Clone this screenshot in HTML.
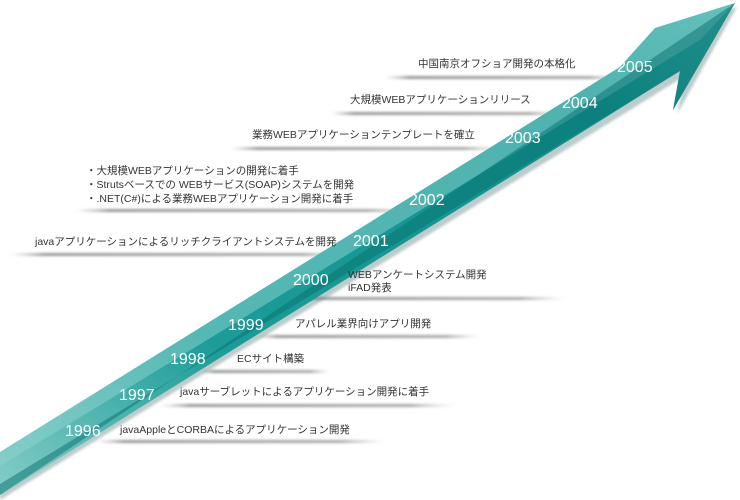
<!DOCTYPE html>
<html><head><meta charset="utf-8"><style>
html,body{margin:0;padding:0;background:#fff;}
svg{display:block}
.l{font-family:"Liberation Sans","Noto Sans CJK JP",sans-serif;font-size:10.5px;fill:#333;}
.y{font-family:"Liberation Sans",sans-serif;font-size:16px;fill:#fff;}
</style></head><body>
<svg width="740" height="500" viewBox="0 0 740 500" xmlns="http://www.w3.org/2000/svg">
<defs>
<linearGradient id="ln" x1="0" x2="1" y1="0" y2="0">
<stop offset="0" stop-color="#bbb" stop-opacity="0"/>
<stop offset="0.1" stop-color="#999"/>
<stop offset="0.85" stop-color="#aaa"/>
<stop offset="1" stop-color="#ccc" stop-opacity="0"/>
</linearGradient>
<linearGradient id="sh" x1="0" y1="1" x2="1" y2="0">
<stop offset="0" stop-color="#86cdc9"/>
<stop offset="0.3" stop-color="#1c9c98"/>
<stop offset="0.8" stop-color="#11918e"/>
<stop offset="1" stop-color="#3aaea9"/>
</linearGradient>
<filter id="bl"><feGaussianBlur stdDeviation="1.2"/></filter>
</defs>
<g filter="url(#bl)">
<rect x="95" y="440" width="290" height="3" fill="url(#ln)"/>
<rect x="160" y="404" width="295" height="3" fill="url(#ln)"/>
<rect x="200" y="370" width="130" height="3" fill="url(#ln)"/>
<rect x="255" y="335" width="225" height="3" fill="url(#ln)"/>
<rect x="270" y="297" width="295" height="3" fill="url(#ln)"/>
<rect x="10" y="253" width="345" height="3" fill="url(#ln)"/>
<rect x="75" y="209" width="345" height="3" fill="url(#ln)"/>
<rect x="230" y="147" width="275" height="3" fill="url(#ln)"/>
<rect x="330" y="112" width="235" height="3" fill="url(#ln)"/>
<rect x="385" y="76" width="240" height="3" fill="url(#ln)"/>
</g>
<polygon points="0,458 623,69 657,31 737,7 677,114 685,76 0,500" fill="#5a7e7e" opacity="0.4" filter="url(#bl)"/>
<polygon points="0,452 620,67 655,28 735,3 673,110 680,71 0,495" fill="url(#sh)"/>
<polygon points="0,452 620,67 655,28 735,3 700,40 0,466" fill="#8fd3cf" opacity="0.5"/>
<polygon points="0,484 680,71 673,110 735,3 0,495" fill="#086f6e" opacity="0.5"/>
<text class="y" x="65" y="436">1996</text>
<text class="y" x="119" y="400">1997</text>
<text class="y" x="170" y="364">1998</text>
<text class="y" x="228" y="330">1999</text>
<text class="y" x="293" y="285">2000</text>
<text class="y" x="353" y="246">2001</text>
<text class="y" x="409" y="205">2002</text>
<text class="y" x="505" y="143">2003</text>
<text class="y" x="562" y="108">2004</text>
<text class="y" x="617" y="72">2005</text>
<text class="l" x="120" y="433">javaAppleとCORBAによるアプリケーション開発</text>
<text class="l" x="180" y="395">javaサーブレットによるアプリケーション開発に着手</text>
<text class="l" x="237" y="362">ECサイト構築</text>
<text class="l" x="295" y="327">アパレル業界向けアプリ開発</text>
<text class="l" x="348" y="278">WEBアンケートシステム開発</text>
<text class="l" x="348" y="291">iFAD発表</text>
<text class="l" x="35" y="245">javaアプリケーションによるリッチクライアントシステムを開発</text>
<text class="l" x="86" y="174">・大規模WEBアプリケーションの開発に着手</text>
<text class="l" x="86" y="188">・Strutsベースでの WEBサービス(SOAP)システムを開発</text>
<text class="l" x="86" y="202">・.NET(C#)による業務WEBアプリケーション開発に着手</text>
<text class="l" x="252" y="138">業務WEBアプリケーションテンプレートを確立</text>
<text class="l" x="350" y="103">大規模WEBアプリケーションリリース</text>
<text class="l" x="418" y="67">中国南京オフショア開発の本格化</text>
</svg>
</body></html>
